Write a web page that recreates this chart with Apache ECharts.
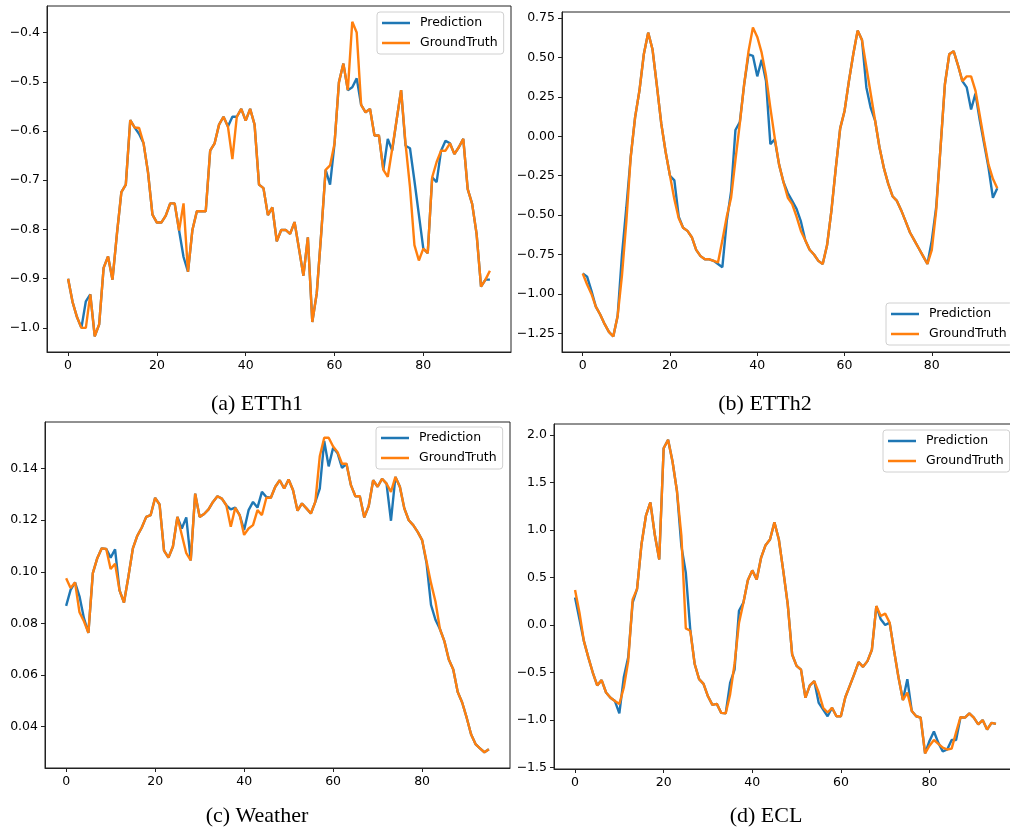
<!DOCTYPE html>
<html><head><meta charset="utf-8">
<script src="https://cdn.jsdelivr.net/npm/echarts@6/dist/echarts.min.js"></script>
<style>html,body{margin:0;padding:0;background:#fff}#c{width:1010px;height:833px}</style>
</head><body><div id="c"></div>
<script>
// ---------- data ----------
const seriesNames = ['Prediction', 'GroundTruth'];
const captions = ['(a) ETTh1', '(b) ETTh2', '(c) Weather', '(d) ECL'];
const xTicks = [0, 20, 40, 60, 80];
const ticksA = [-1.0, -0.9, -0.8, -0.7, -0.6, -0.5, -0.4];
const ticksB = [-1.25, -1.0, -0.75, -0.5, -0.25, 0, 0.25, 0.5, 0.75];
const ticksC = [0.04, 0.06, 0.08, 0.10, 0.12, 0.14];
const ticksD = [-1.5, -1.0, -0.5, 0, 0.5, 1.0, 1.5, 2.0];

const etth1Truth = [-0.900,-0.947,-0.978,-1.000,-1.000,-0.932,-1.017,-0.993,-0.878,-0.855,
 -0.902,-0.809,-0.724,-0.709,-0.578,-0.593,-0.594,-0.625,-0.684,-0.770,
 -0.786,-0.786,-0.772,-0.747,-0.747,-0.802,-0.747,-0.886,-0.801,-0.763,
 -0.763,-0.763,-0.640,-0.625,-0.587,-0.571,-0.591,-0.657,-0.571,-0.555,
 -0.579,-0.555,-0.587,-0.709,-0.716,-0.771,-0.755,-0.824,-0.801,-0.801,
 -0.809,-0.785,-0.839,-0.894,-0.816,-0.988,-0.930,-0.809,-0.679,-0.670,
 -0.626,-0.501,-0.463,-0.517,-0.378,-0.400,-0.547,-0.562,-0.555,-0.609,
 -0.609,-0.679,-0.693,-0.636,-0.577,-0.517,-0.626,-0.714,-0.832,-0.863,
 -0.839,-0.848,-0.694,-0.663,-0.640,-0.640,-0.625,-0.647,-0.633,-0.616,
 -0.718,-0.748,-0.809,-0.916,-0.902,-0.884];
const etth1Pred = [-0.900,-0.947,-0.978,-1.000,-0.946,-0.932,-1.017,-0.993,-0.878,-0.855,
 -0.902,-0.809,-0.724,-0.709,-0.578,-0.593,-0.606,-0.625,-0.684,-0.770,
 -0.786,-0.786,-0.772,-0.747,-0.747,-0.802,-0.856,-0.886,-0.801,-0.763,
 -0.763,-0.763,-0.640,-0.625,-0.587,-0.571,-0.591,-0.571,-0.571,-0.555,
 -0.579,-0.555,-0.587,-0.709,-0.716,-0.771,-0.755,-0.824,-0.801,-0.801,
 -0.809,-0.785,-0.839,-0.894,-0.816,-0.988,-0.930,-0.809,-0.679,-0.709,
 -0.626,-0.501,-0.463,-0.517,-0.511,-0.493,-0.547,-0.562,-0.555,-0.609,
 -0.609,-0.679,-0.616,-0.640,-0.577,-0.517,-0.630,-0.635,-0.701,-0.770,
 -0.839,-0.848,-0.694,-0.704,-0.640,-0.620,-0.625,-0.647,-0.633,-0.616,
 -0.718,-0.748,-0.809,-0.916,-0.902,-0.902];

const etth2Truth = [-0.87,-0.94,-1.00,-1.08,-1.13,-1.19,-1.24,-1.27,-1.14,-0.88,
 -0.54,-0.13,0.12,0.29,0.52,0.657,0.55,0.32,0.08,-0.10,
 -0.25,-0.40,-0.52,-0.58,-0.60,-0.64,-0.72,-0.76,-0.78,-0.78,
 -0.79,-0.80,-0.66,-0.51,-0.39,-0.15,0.08,0.33,0.54,0.69,
 0.63,0.53,0.385,0.18,-0.01,-0.18,-0.29,-0.39,-0.43,-0.51,
 -0.60,-0.66,-0.72,-0.75,-0.79,-0.81,-0.69,-0.47,-0.20,0.05,
 0.16,0.35,0.52,0.67,0.61,0.44,0.27,0.10,-0.07,-0.20,
 -0.30,-0.38,-0.41,-0.47,-0.54,-0.61,-0.66,-0.71,-0.76,-0.81,
 -0.72,-0.47,-0.07,0.33,0.52,0.54,0.45,0.35,0.38,0.38,
 0.29,0.13,-0.03,-0.18,-0.27,-0.33];
const etth2Pred = [-0.87,-0.89,-0.98,-1.08,-1.13,-1.19,-1.24,-1.27,-1.14,-0.75,
 -0.45,-0.13,0.12,0.29,0.52,0.657,0.55,0.32,0.08,-0.10,
 -0.25,-0.28,-0.51,-0.58,-0.60,-0.64,-0.72,-0.76,-0.78,-0.78,
 -0.79,-0.81,-0.83,-0.54,-0.35,0.04,0.09,0.33,0.52,0.51,
 0.38,0.485,0.35,-0.05,-0.02,-0.18,-0.29,-0.36,-0.41,-0.46,
 -0.54,-0.66,-0.72,-0.75,-0.79,-0.81,-0.69,-0.47,-0.20,0.05,
 0.16,0.35,0.52,0.67,0.61,0.31,0.18,0.10,-0.07,-0.20,
 -0.30,-0.38,-0.41,-0.47,-0.54,-0.61,-0.66,-0.71,-0.76,-0.81,
 -0.66,-0.45,-0.07,0.33,0.52,0.54,0.45,0.35,0.31,0.17,
 0.27,0.10,-0.05,-0.20,-0.39,-0.33];

const weatherTruth = [0.0975,0.0937,0.0959,0.0843,0.0808,0.0763,0.0995,0.1053,0.1091,0.1089,
 0.1011,0.1031,0.0928,0.0881,0.0982,0.1091,0.1140,0.1172,0.1213,0.1220,
 0.1287,0.1261,0.1082,0.1055,0.1098,0.1213,0.1143,0.1072,0.1044,0.1303,
 0.1213,0.1224,0.1242,0.1271,0.1293,0.1284,0.1258,0.1175,0.1248,0.1220,
 0.1143,0.1168,0.1181,0.1239,0.1220,0.1287,0.1287,0.1330,0.1355,0.1323,
 0.1358,0.1316,0.1237,0.1265,0.1246,0.1226,0.1271,0.1448,0.1520,0.1520,
 0.1486,0.1464,0.1419,0.1419,0.1336,0.1293,0.1293,0.1211,0.1255,0.1355,
 0.1330,0.1361,0.1342,0.1310,0.1368,0.1330,0.1246,0.1200,0.1181,0.1155,
 0.1123,0.1040,0.0956,0.0885,0.0778,0.0731,0.0660,0.0621,0.0534,0.0493,
 0.0435,0.0370,0.0332,0.0315,0.0300,0.0312];
const weatherPred = [0.0868,0.0930,0.0959,0.0905,0.0820,0.0763,0.0995,0.1053,0.1091,0.1089,
 0.1055,0.1087,0.0928,0.0881,0.0982,0.1091,0.1140,0.1172,0.1213,0.1220,
 0.1287,0.1261,0.1082,0.1055,0.1098,0.1213,0.1168,0.1211,0.1044,0.1303,
 0.1213,0.1224,0.1242,0.1271,0.1293,0.1284,0.1258,0.1242,0.1249,0.1220,
 0.1162,0.1239,0.1271,0.1249,0.1310,0.1290,0.1287,0.1330,0.1355,0.1323,
 0.1358,0.1316,0.1237,0.1265,0.1246,0.1226,0.1271,0.1323,0.1507,0.1409,
 0.1481,0.1460,0.1403,0.1419,0.1336,0.1293,0.1293,0.1211,0.1255,0.1355,
 0.1330,0.1361,0.1342,0.1198,0.1368,0.1330,0.1246,0.1200,0.1181,0.1155,
 0.1123,0.1033,0.0872,0.0814,0.0778,0.0731,0.0660,0.0621,0.0534,0.0493,
 0.0435,0.0370,0.0332,0.0315,0.0300,0.0312];

const eclTruth = [0.368,0.13,-0.17,-0.34,-0.50,-0.635,-0.58,-0.71,-0.765,-0.80,
 -0.83,-0.66,-0.38,0.27,0.38,0.85,1.15,1.29,0.95,0.69,
 1.86,1.95,1.72,1.41,0.94,-0.035,-0.06,-0.41,-0.57,-0.62,
 -0.75,-0.84,-0.83,-0.925,-0.93,-0.73,-0.41,0.02,0.235,0.47,
 0.575,0.48,0.71,0.84,0.90,1.08,0.90,0.57,0.22,-0.31,
 -0.43,-0.47,-0.765,-0.635,-0.59,-0.71,-0.87,-0.92,-0.87,-0.96,
 -0.96,-0.76,-0.64,-0.52,-0.39,-0.44,-0.38,-0.26,0.20,0.095,
 0.12,0.025,-0.27,-0.55,-0.79,-0.71,-0.905,-0.96,-0.975,-1.35,
 -1.27,-1.21,-1.25,-1.29,-1.31,-1.30,-1.13,-0.97,-0.975,-0.93,
 -0.975,-1.045,-1.00,-1.10,-1.03,-1.04];
const eclPred = [0.29,0.06,-0.17,-0.34,-0.50,-0.635,-0.58,-0.71,-0.765,-0.80,
 -0.93,-0.55,-0.34,0.235,0.38,0.85,1.15,1.29,0.95,0.69,
 1.86,1.95,1.72,1.41,0.83,0.55,-0.045,-0.41,-0.57,-0.62,
 -0.75,-0.84,-0.83,-0.925,-0.93,-0.61,-0.47,0.15,0.235,0.47,
 0.575,0.48,0.71,0.84,0.90,1.08,0.90,0.57,0.22,-0.31,
 -0.43,-0.47,-0.765,-0.635,-0.59,-0.82,-0.89,-0.96,-0.87,-0.96,
 -0.96,-0.76,-0.64,-0.52,-0.39,-0.44,-0.38,-0.26,0.20,0.06,
 0.0,0.025,-0.27,-0.55,-0.79,-0.57,-0.905,-0.96,-0.975,-1.35,
 -1.22,-1.12,-1.24,-1.33,-1.31,-1.21,-1.21,-0.97,-0.975,-0.93,
 -0.975,-1.045,-1.00,-1.10,-1.03,-1.04];

// ---------- layout ----------
const BLUE = '#1f77b4', ORANGE = '#ff7f0e';
const panels = [
  {grid:{left:47, top:6, width:464, height:346}, yMin:-1.049, yMax:-0.346, ticks:ticksA, dec:1,
   pred:etth1Pred, truth:etth1Truth, legend:{left:377, top:12}, cap:[257,404]},
  {grid:{left:562, top:12, width:456, height:340}, yMin:-1.368, yMax:0.788, ticks:ticksB, dec:2,
   pred:etth2Pred, truth:etth2Truth, legend:{left:886, top:303}, cap:[765,404]},
  {grid:{left:45, top:422, width:465, height:346}, yMin:0.0239, yMax:0.1581, ticks:ticksC, dec:2,
   pred:weatherPred, truth:weatherTruth, legend:{left:376, top:427}, cap:[257,816]},
  {grid:{left:554, top:424, width:463, height:345}, yMin:-1.515, yMax:2.115, ticks:ticksD, dec:1,
   pred:eclPred, truth:eclTruth, legend:{left:883, top:430}, cap:[766,816]}
];

function fmt(v, d) {
  let s = Number(v).toFixed(d);
  if (s.charAt(0) === '-') s = '\u2212' + s.slice(1);
  return s;
}
const tickFont = {fontFamily:'DejaVu Sans', fontSize:12.5, color:'#000'};
const grids = [], xAxes = [], yAxes = [], series = [], legends = [], graphics = [];
panels.forEach((p, k) => {
  grids.push(Object.assign({show:true, borderColor:'#222', borderWidth:1, backgroundColor:'#fff',
    containLabel:false, outerBoundsMode:'none'}, p.grid));
  xAxes.push({type:'value', gridIndex:k, min:-4.75, max:99.75,
    axisLine:{show:true, onZero:false, lineStyle:{color:'#222', width:1}},
    axisTick:{show:true, length:4, lineStyle:{color:'#222'}, customValues:xTicks},
    axisLabel:Object.assign({margin:7, customValues:xTicks, formatter:v => fmt(v,0)}, tickFont),
    splitLine:{show:false}});
  yAxes.push({type:'value', gridIndex:k, min:p.yMin, max:p.yMax,
    axisLine:{show:true, onZero:false, lineStyle:{color:'#222', width:1}},
    axisTick:{show:true, length:4, lineStyle:{color:'#222'}, customValues:p.ticks},
    axisLabel:Object.assign({margin:7, customValues:p.ticks, formatter:v => fmt(v,p.dec)}, tickFont),
    splitLine:{show:false}});
  series.push({name:seriesNames[0], type:'line', xAxisIndex:k, yAxisIndex:k, showSymbol:false, symbol:'none',
    color:BLUE, lineStyle:{color:BLUE, width:2.4}, data:p.pred.map((v,i)=>[i,v]), z:2});
  series.push({name:seriesNames[1], type:'line', xAxisIndex:k, yAxisIndex:k, showSymbol:false, symbol:'none',
    color:ORANGE, lineStyle:{color:ORANGE, width:2.4}, data:p.truth.map((v,i)=>[i,v]), z:3});
  legends.push({data:seriesNames, orient:'vertical', left:p.legend.left, top:p.legend.top,
    icon:'rect', itemWidth:28, itemHeight:2.5, itemGap:6,
    backgroundColor:'rgba(255,255,255,0.85)', borderColor:'#d0d0d0', borderWidth:1, borderRadius:3,
    padding:[4,6,4,5], selectedMode:false,
    textStyle:{fontFamily:'DejaVu Sans', fontSize:12.5, color:'#000', lineHeight:14, padding:[0,0,0,5]}});
  graphics.push({type:'text', x:p.cap[0], y:p.cap[1],
    style:{text:captions[k], font:'22px "Liberation Serif", "Times New Roman", serif', fill:'#000',
      textAlign:'center', textVerticalAlign:'middle', align:'center', verticalAlign:'middle'}});
});

const chart = echarts.init(document.getElementById('c'), null, {renderer:'canvas'});
chart.setOption({
  backgroundColor:'#fff', animation:false,
  grid:grids, xAxis:xAxes, yAxis:yAxes, series:series, legend:legends, graphic:graphics
});
</script>
</body></html>
